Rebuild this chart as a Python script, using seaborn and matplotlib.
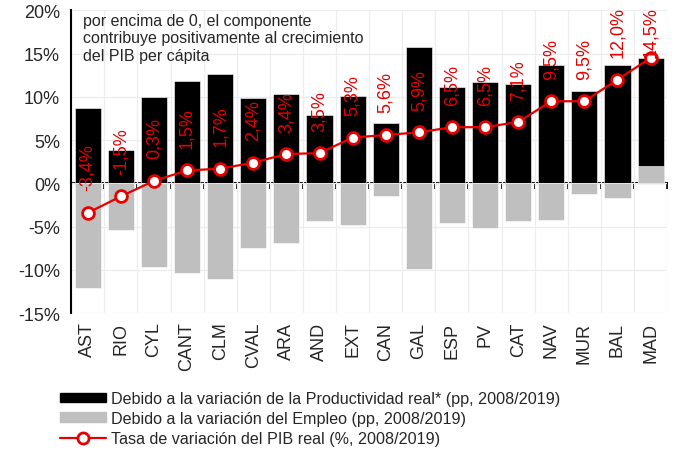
import numpy as np
import pandas as pd
import matplotlib.pyplot as plt
import seaborn as sns
from matplotlib.patches import Patch
from matplotlib.lines import Line2D

# Data
regions = ['AST', 'RIO', 'CYL', 'CANT', 'CLM', 'CVAL', 'ARA', 'AND', 'EXT',
           'CAN', 'GAL', 'ESP', 'PV', 'CAT', 'NAV', 'MUR', 'BAL', 'MAD']
productividad = [8.7, 3.9, 10.0, 11.8, 12.7, 9.9, 10.3, 7.9, 10.1,
                 7.0, 15.8, 11.1, 11.7, 11.5, 13.7, 10.7, 13.7, 12.5]
empleo = [-12.1, -5.4, -9.7, -10.3, -11.0, -7.5, -6.9, -4.4, -4.8,
          -1.4, -9.9, -4.6, -5.2, -4.4, -4.2, -1.2, -1.7, 2.0]
pib = [-3.4, -1.5, 0.3, 1.5, 1.7, 2.4, 3.4, 3.5, 5.3,
       5.6, 5.9, 6.5, 6.5, 7.1, 9.5, 9.5, 12.0, 14.5]

nota = ("por encima de 0, el componente\n"
        "contribuye positivamente al crecimiento\n"
        "del PIB per cápita")
leg_labels = ['Debido a la variación de la Productividad real* (pp, 2008/2019)',
              'Debido a la variación del Empleo (pp, 2008/2019)',
              'Tasa de variación del PIB real (%, 2008/2019)']

RED = '#E60000'
GRAY = '#BFBFBF'

sns.set_theme(style='white')
plt.rcParams['font.family'] = ['Liberation Sans', 'DejaVu Sans']

df = pd.DataFrame({'region': regions, 'prod': productividad,
                   'emp': empleo, 'pib': pib})
# black bar reaches the top of the stack; grey (employment) drawn from 0 over it
df['top'] = df['prod'] + df['emp'].clip(lower=0)

fig = plt.figure(figsize=(6.78, 4.56), dpi=100)
ax = fig.add_axes([0.105, 0.311, 0.879, 0.664])

sns.barplot(data=df, x='region', y='top', color='black', saturation=1,
            width=0.79, edgecolor='white', linewidth=0.4, ax=ax, zorder=2)
sns.barplot(data=df, x='region', y='emp', color=GRAY, saturation=1,
            width=0.79, edgecolor='white', linewidth=0.4, ax=ax, zorder=2)
sns.pointplot(data=df, x='region', y='pib', color=RED, markers='o',
              markersize=8.5, markerfacecolor='white', markeredgecolor=RED,
              markeredgewidth=2, linewidth=1.6, ax=ax, zorder=4)

n = len(regions)
ax.set_xlim(-0.5, n - 0.5)
ax.set_ylim(-15, 20)
ax.set_yticks(np.arange(-15, 21, 5))
ax.set_yticklabels([f'{v:.0f}%' for v in np.arange(-15, 21, 5)])
ax.set_xlabel('')
ax.set_ylabel('')

# grid: horizontal every 5%, vertical at category boundaries
ax.set_xticks(np.arange(-0.5, n, 1), minor=True)
ax.grid(True, axis='y', which='major', color='#EDEDED', lw=0.9, zorder=0)
ax.grid(True, axis='x', which='minor', color='#EDEDED', lw=0.9, zorder=0)
ax.grid(False, axis='x', which='major')
ax.set_axisbelow(True)

ax.tick_params(axis='x', which='both', length=0, labelsize=13,
               labelrotation=90, pad=6)
ax.tick_params(axis='y', which='major', direction='out', length=5,
               width=1.3, color='black', labelsize=13, pad=3)
for s in ['top', 'right', 'bottom']:
    ax.spines[s].set_visible(False)
ax.spines['left'].set_color('black')
ax.spines['left'].set_linewidth(1.5)

# zero axis with ticks between categories
sec = ax.secondary_xaxis(15 / 35)
sec.set_xticks(np.arange(-0.5, n, 1))
sec.set_xticklabels([])
sec.tick_params(direction='out', length=4, width=1.3, color='black')
sec.spines['bottom'].set_color('black')
sec.spines['bottom'].set_linewidth(1.5)

# value labels
for i, v in enumerate(pib):
    ax.text(i, min(v + 2.6, 14.6), f'{v:.1f}%'.replace('.', ','),
            rotation=90, ha='center', va='bottom', color=RED,
            fontsize=13, zorder=5)

ax.text(0.02, 0.992, nota, transform=ax.transAxes, ha='left', va='top',
        fontsize=11.5, linespacing=1.2, zorder=6)

handles = [Patch(facecolor='black', edgecolor='black'),
           Patch(facecolor=GRAY, edgecolor=GRAY),
           Line2D([0], [0], color=RED, lw=1.6, marker='o', markersize=8,
                  markerfacecolor='white', markeredgecolor=RED,
                  markeredgewidth=2)]
fig.legend(handles, leg_labels, loc='upper left',
           bbox_to_anchor=(0.088, 0.14), frameon=False, fontsize=11.6,
           handlelength=2.9, handleheight=0.55, handletextpad=0.3,
           labelspacing=0.3, borderpad=0, borderaxespad=0)

fig.savefig('out.png', dpi=100)
